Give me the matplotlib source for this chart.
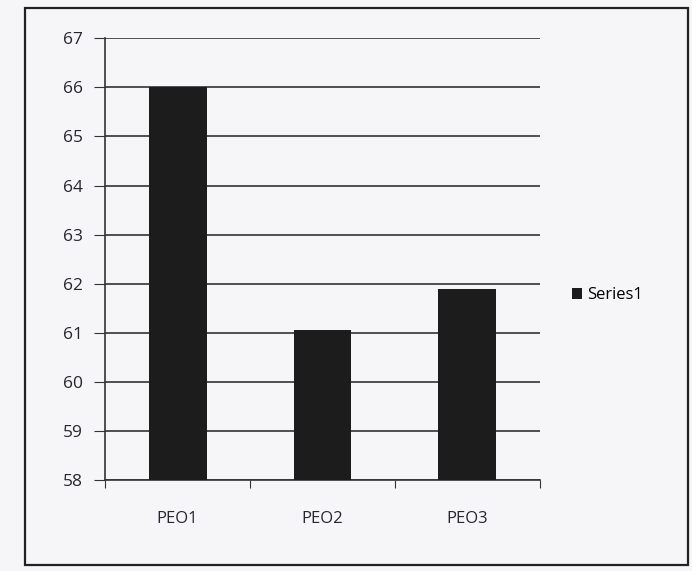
import matplotlib.pyplot as plt
from matplotlib.patches import Rectangle

categories = ['PEO1', 'PEO2', 'PEO3']
values = [66.0, 61.05, 61.9]
series_name = 'Series1'

plt.rcParams['font.family'] = ['Open Sans', 'DejaVu Sans']

fig = plt.figure(figsize=(6.92, 5.71), dpi=100)
fig.patch.set_facecolor('#f6f5f8')

# outer chart border
fig.add_artist(Rectangle((0.036, 0.011), 0.958, 0.975, transform=fig.transFigure,
                         fill=False, edgecolor='#222222', linewidth=1.6))

ax = fig.add_axes([0.152, 0.159, 0.628, 0.774])
ax.set_facecolor('#f6f5f8')

x = range(len(categories))
ax.bar(x, [v - 58 for v in values], bottom=58, width=0.4, color='#1c1c1c',
       label=series_name, zorder=3)

ax.set_ylim(58, 67)
ax.set_xlim(-0.5, 2.5)
ax.set_yticks(range(58, 68))
ax.yaxis.grid(True, color='#333333', linewidth=1.2, zorder=0)

ax.set_xticks([-0.5, 0.5, 1.5, 2.5])
ax.set_xticklabels([])
ax.set_xticks(list(x), minor=True)
ax.set_xticklabels(categories, minor=True)
ax.tick_params(axis='x', which='minor', length=0, pad=22, labelsize=12, labelcolor='#262630')
ax.tick_params(axis='x', which='major', length=6, direction='out', color='#333333')
ax.tick_params(axis='y', length=8, direction='out', color='#333333', labelsize=12.5,
               labelcolor='#262630', pad=8)

for side in ['top', 'right']:
    ax.spines[side].set_visible(False)
ax.spines['left'].set_color('#333333')
ax.spines['bottom'].set_color('#333333')
ax.spines['left'].set_linewidth(1.2)
ax.spines['bottom'].set_linewidth(1.2)

fig.legend(loc='center left', bbox_to_anchor=(0.805, 0.483), frameon=False,
           fontsize=12, handlelength=0.6, handleheight=0.6, handletextpad=0.3)

fig.savefig('out.png', dpi=100, facecolor=fig.get_facecolor())
